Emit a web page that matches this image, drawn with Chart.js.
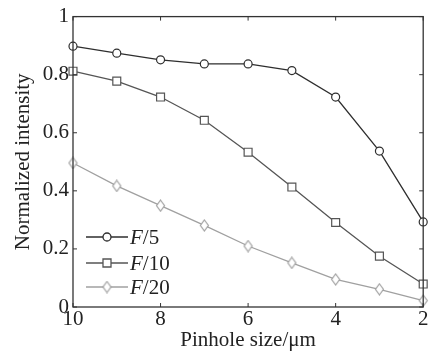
<!DOCTYPE html>
<html>
<head>
<meta charset="utf-8">
<script src="https://cdn.jsdelivr.net/npm/chart.js@4/dist/chart.umd.min.js"></script>
<style>
html,body{margin:0;padding:0;background:#fff;}
#wrap{width:430px;height:351px;position:relative;}
</style>
</head>
<body>
<div id="wrap"><canvas id="c" width="430" height="351"></canvas></div>
<script>
const pinholeSizes = [10, 9, 8, 7, 6, 5, 4, 3, 2];
const f5Values  = [0.898, 0.874, 0.851, 0.837, 0.837, 0.814, 0.723, 0.537, 0.293];
const f10Values = [0.812, 0.778, 0.723, 0.643, 0.533, 0.413, 0.291, 0.175, 0.079];
const f20Values = [0.496, 0.417, 0.349, 0.281, 0.210, 0.152, 0.095, 0.061, 0.022];
const seriesNames = ['/5', '/10', '/20'];
const xTickValues = [10, 8, 6, 4, 2];
const yTickValues = [0, 0.2, 0.4, 0.6, 0.8, 1];

const FONT = '"Liberation Serif", "Times New Roman", serif';
const colors = ['#2e2e2e', '#555555', '#a0a0a0'];

function diamondCanvas(color) {
  const cv = document.createElement('canvas');
  cv.width = 11; cv.height = 13;
  const g = cv.getContext('2d');
  g.fillStyle = '#fff';
  g.strokeStyle = color;
  g.lineWidth = 1.2;
  g.beginPath();
  g.moveTo(5.5, 1); g.lineTo(9.5, 6.5); g.lineTo(5.5, 12); g.lineTo(1.5, 6.5); g.closePath();
  g.fill(); g.stroke();
  return cv;
}
const diamond = diamondCanvas(colors[2]);

function pts(vals) { return pinholeSizes.map((x, i) => ({x: x, y: vals[i]})); }

const frameAndTicks = {
  id: 'frameAndTicks',
  afterDraw(chart) {
    const ctx = chart.ctx, a = chart.chartArea;
    const xs = chart.scales.x, ys = chart.scales.y;
    ctx.save();
    ctx.strokeStyle = '#333';
    ctx.lineWidth = 1.3;
    ctx.strokeRect(a.left, a.top, a.right - a.left, a.bottom - a.top);
    ctx.lineWidth = 1;
    ctx.beginPath();
    const L = 4;
    xTickValues.forEach(v => {
      const px = xs.getPixelForValue(v);
      ctx.moveTo(px, a.bottom); ctx.lineTo(px, a.bottom - L);
      ctx.moveTo(px, a.top); ctx.lineTo(px, a.top + L);
    });
    yTickValues.forEach(v => {
      const py = ys.getPixelForValue(v);
      ctx.moveTo(a.left, py); ctx.lineTo(a.left + L, py);
      ctx.moveTo(a.right, py); ctx.lineTo(a.right - L, py);
    });
    ctx.stroke();

    // legend
    const rows = [237, 263, 287];
    const x0 = 86, x1 = 128, xm = 107;
    rows.forEach((y, i) => {
      ctx.strokeStyle = colors[i];
      ctx.lineWidth = 1.3;
      ctx.beginPath(); ctx.moveTo(x0, y); ctx.lineTo(x1, y); ctx.stroke();
      ctx.fillStyle = '#fff';
      ctx.beginPath();
      if (i === 0) { ctx.arc(xm, y, 4, 0, Math.PI * 2); ctx.fill(); ctx.stroke(); }
      else if (i === 1) { ctx.rect(xm - 4, y - 4, 8, 8); ctx.fill(); ctx.stroke(); }
      else { ctx.drawImage(diamond, xm - 5.5, y - 6.5); }
      ctx.fillStyle = '#222';
      ctx.textBaseline = 'middle';
      ctx.textAlign = 'left';
      ctx.font = 'italic 21px ' + FONT;
      ctx.fillText('F', 130, y + 1);
      const w = ctx.measureText('F').width;
      ctx.font = '21px ' + FONT;
      ctx.fillText(seriesNames[i], 130 + w, y + 1);
    });
    ctx.restore();
  }
};

new Chart(document.getElementById('c'), {
  type: 'line',
  data: {
    datasets: [
      {label: 'F/5', data: pts(f5Values), borderColor: colors[0], backgroundColor: '#fff',
       pointStyle: 'circle', pointRadius: 4, pointBorderWidth: 1.2, borderWidth: 1.3},
      {label: 'F/10', data: pts(f10Values), borderColor: colors[1], backgroundColor: '#fff',
       pointStyle: 'rect', pointRadius: 5.6, pointBorderWidth: 1.2, borderWidth: 1.3},
      {label: 'F/20', data: pts(f20Values), borderColor: colors[2], backgroundColor: '#fff',
       pointStyle: diamond, pointRadius: 5, pointBorderWidth: 1.2, borderWidth: 1.3}
    ]
  },
  options: {
    responsive: false,
    animation: false,
    clip: false,
    layout: {padding: {top: 16, right: 4, left: 0, bottom: 0}},
    plugins: {legend: {display: false}, tooltip: {enabled: false}},
    scales: {
      x: {
        type: 'linear', reverse: true, min: 2, max: 10,
        afterBuildTicks(s) { s.ticks = xTickValues.map(v => ({value: v})); },
        afterFit(s) { s.height = 44; },
        grid: {display: false, drawTicks: false},
        border: {display: false},
        ticks: {color: '#222', font: {family: FONT, size: 21}, padding: 0, maxRotation: 0},
        title: {display: true, text: 'Pinhole size/μm', color: '#222',
                font: {family: FONT, size: 21}, padding: {top: 0, bottom: -2}}
      },
      y: {
        min: 0, max: 1,
        afterBuildTicks(s) { s.ticks = yTickValues.map(v => ({value: v})); },
        afterFit(s) { s.width = 73; },
        grid: {display: false, drawTicks: false},
        border: {display: false},
        ticks: {color: '#222', font: {family: FONT, size: 21}, padding: 4,
                callback: v => String(Number(Number(v).toFixed(1)))},
        title: {display: true, text: 'Normalized intensity', color: '#222',
                font: {family: FONT, size: 21}, padding: {top: 11, bottom: 0}}
      }
    }
  },
  plugins: [frameAndTicks]
});
</script>
</body>
</html>
